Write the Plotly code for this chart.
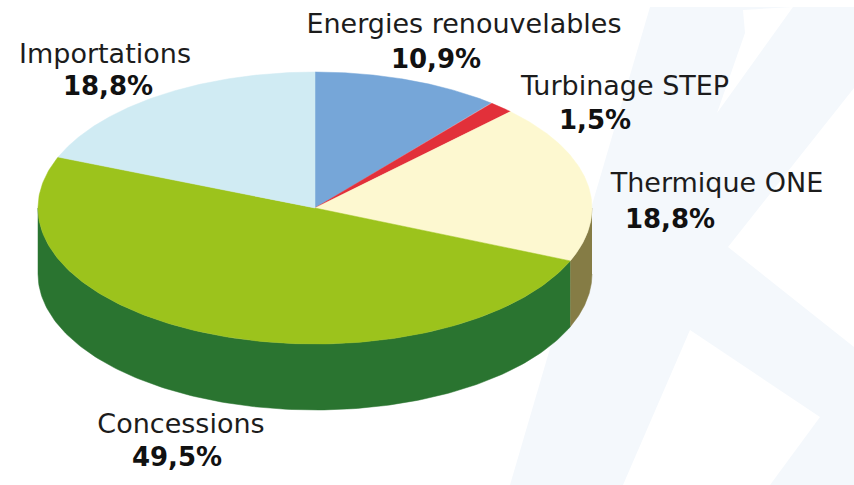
import numpy as np
import plotly.graph_objects as go

# Data
categories = ["Energies renouvelables", "Turbinage STEP", "Thermique ONE", "Concessions", "Importations"]
shares = [10.9, 1.5, 18.8, 49.5, 18.8]

# Styles
top_colors = ["#76a6d8", "#e2303a", "#fdf8d0", "#9cc31c", "#d0ebf3"]
side_colors = ["#5d84ab", "#b32630", "#857c45", "#2a7430", "#a5bac0"]
name_pos = [(464, 26), (625, 88), (717, 185), (181, 426), (105, 56)]
pct_pos = [(436, 61), (595, 122), (670, 221), (177, 459), (108, 88)]
NAME_FONT = dict(family="DejaVu Sans", size=27, color="#1c1c1c")
PCT_FONT = dict(family="DejaVu Sans", size=26, color="#111111", weight="bold")

CX, CY, RX, RY, DEPTH = 315, 208, 277, 136, 66

fig = go.Figure()
total = sum(shares)
edges = np.cumsum([0] + shares) / total * 2 * np.pi


def ex(t):
    return CX + RX * np.sin(t)


def ey(t):
    return CY - RY * np.cos(t)


# side walls (only the front half, pi/2 .. 3pi/2, can be seen)
for a, b, col in zip(edges[:-1], edges[1:], side_colors):
    lo, hi = max(a, np.pi / 2), min(b, 3 * np.pi / 2)
    if lo >= hi:
        continue
    t = np.linspace(lo, hi, 160)
    xs = np.r_[ex(t), ex(t[::-1])]
    ys = np.r_[ey(t), ey(t[::-1]) + DEPTH]
    fig.add_trace(go.Scatter(x=xs, y=ys, mode="lines", fill="toself", fillcolor=col,
                             line=dict(color=col, width=0.5), hoverinfo="skip"))

# top face
for a, b, col, name in zip(edges[:-1], edges[1:], top_colors, categories):
    t = np.linspace(a, b, 200)
    xs = np.r_[CX, ex(t), CX]
    ys = np.r_[CY, ey(t), CY]
    fig.add_trace(go.Scatter(x=xs, y=ys, mode="lines", fill="toself", fillcolor=col,
                             line=dict(color=col, width=0.5), name=name, hoverinfo="name"))

# labels
fig.add_trace(go.Scatter(x=[p[0] for p in name_pos], y=[p[1] for p in name_pos], mode="text",
                         text=categories, textposition="middle center", textfont=NAME_FONT,
                         hoverinfo="skip"))
fig.add_trace(go.Scatter(x=[p[0] for p in pct_pos], y=[p[1] for p in pct_pos], mode="text",
                         text=[f"{v:.1f}%".replace(".", ",") for v in shares],
                         textposition="middle center", textfont=PCT_FONT, hoverinfo="skip"))

# pale watermark behind the chart
PALE = "#f4f8fc"
WHITE = "#ffffff"
watermark = [
    (PALE, [(650, 7), (854, 7), (854, 485), (510, 485)]),
    (WHITE, [(743, 10), (793, 7), (717, 113), (745, 33)]),
    (WHITE, [(728, 247), (854, 88), (854, 347)]),
    (WHITE, [(690, 330), (820, 417), (770, 485), (623, 485)]),
]
shapes = []
for col, pts in watermark:
    path = "M " + " L ".join(f"{x},{y}" for x, y in pts) + " Z"
    shapes.append(dict(type="path", path=path, fillcolor=col, line=dict(width=0), layer="below"))

fig.update_layout(
    width=854, height=485, margin=dict(l=0, r=0, t=0, b=0),
    paper_bgcolor="white", plot_bgcolor="white", showlegend=False, shapes=shapes,
    xaxis=dict(range=[0, 854], visible=False),
    yaxis=dict(range=[485, 0], visible=False),
)
fig.write_html("out.html", config={"displayModeBar": False},
               post_script="document.body.style.margin='0';")
